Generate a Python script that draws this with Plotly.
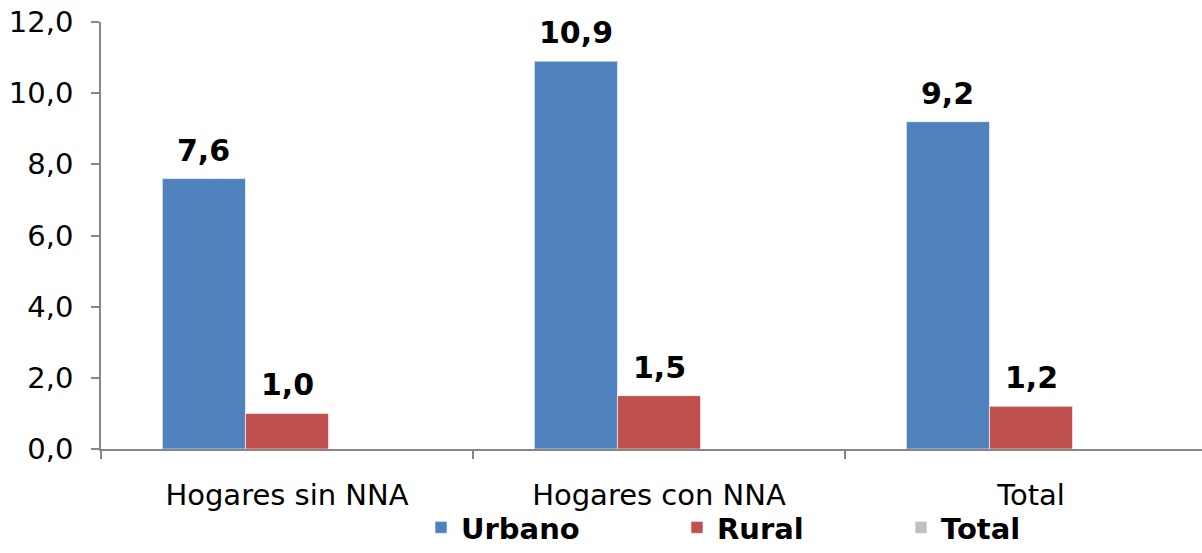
import plotly.graph_objects as go

categories = ["Hogares sin NNA", "Hogares con NNA", "Total"]
urbano = [7.6, 10.9, 9.2]
rural = [1.0, 1.5, 1.2]
total = [None, None, None]
y_ticks = [0, 2, 4, 6, 8, 10, 12]

FONT = "DejaVu Sans, Verdana, sans-serif"
FS = 29
FSB = 30

BARGAP = 0.33
SLOT_PX = 372
BAR_PX = SLOT_PX * (1 - BARGAP) / 3

fig = go.Figure()
series = [
    ("Urbano", urbano, "#4F81BD", "legend"),
    ("Rural", rural, "#C0504D", "legend2"),
    ("Total", total, "#BFBFBF", "legend3"),
]
for k, (name, vals, color, lg) in enumerate(series):
    fig.add_trace(go.Bar(
        name=name, x=categories, y=vals,
        marker=dict(color=color, line=dict(color="rgba(255,255,255,0.6)", width=1)),
        legend=lg, showlegend=True, hoverinfo="x+y+name",
    ))
    for cat, v in zip(categories, vals):
        if v is None:
            continue
        fig.add_annotation(
            x=cat, y=v, text=f"{v:.1f}".replace(".", ","),
            xref="x", yref="y", showarrow=False,
            yanchor="bottom", xanchor="center",
            xshift=(k - 1) * BAR_PX, yshift=9,
            font=dict(family=FONT, size=FSB, color="black", weight="bold"),
        )

leg_common = dict(orientation="h", yanchor="bottom", y=-104 / 427, yref="paper",
                  xanchor="left",
                  font=dict(family=FONT, size=FS, color="black", weight="bold"),
                  bgcolor="rgba(0,0,0,0)", borderwidth=0)

fig.update_layout(
    width=1202, height=553,
    margin=dict(l=101, r=0, t=22, b=104, autoexpand=False),
    paper_bgcolor="white", plot_bgcolor="white",
    separators=",.",
    showlegend=True,
    barmode="group", bargap=BARGAP, bargroupgap=0,
    font=dict(family=FONT, size=FS, color="black"),
    legend=dict(x=(421 - 101) / 1101, **leg_common),
    legend2=dict(x=(677 - 101) / 1101, **leg_common),
    legend3=dict(x=(901 - 101) / 1101, **leg_common),
    xaxis=dict(
        range=[-0.5, -0.5 + 1101 / SLOT_PX], showline=True, linecolor="#868686", linewidth=1.5,
        ticks="outside", tickson="boundaries", ticklen=8, tickcolor="#868686", tickwidth=1.5,
        tickfont=dict(family=FONT, size=FS, color="black"), ticklabelstandoff=19,
        showgrid=False, zeroline=False, automargin=False,
    ),
    yaxis=dict(
        range=[0, 12], tickvals=y_ticks, tickformat=".1f",
        showline=True, linecolor="#868686", linewidth=1.5,
        ticks="outside", ticklen=8, tickcolor="#868686", tickwidth=1.5,
        tickfont=dict(family=FONT, size=FS, color="black"), ticklabelstandoff=12,
        showgrid=False, zeroline=False, automargin=False,
    ),
)

fig.write_html(
    "out.html",
    config={"displayModeBar": False},
    post_script="document.body.style.margin='0';document.body.style.overflow='hidden';",
)
